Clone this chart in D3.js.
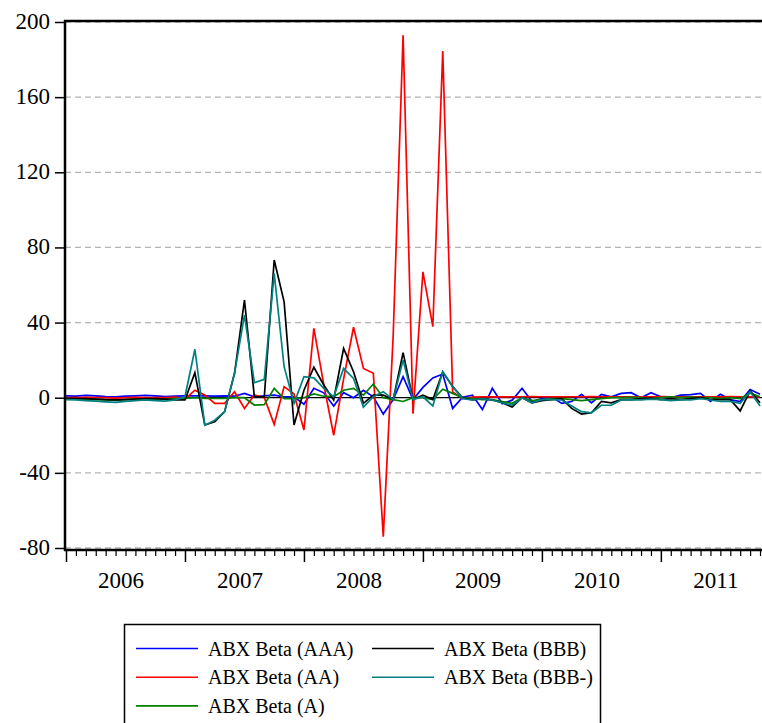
<!DOCTYPE html>
<html><head><meta charset="utf-8">
<script src="https://cdn.jsdelivr.net/npm/d3@7"></script>
<style>body{margin:0;background:#fff}svg{display:block}</style>
</head><body>
<svg id="chart" width="762" height="723" font-family="serif"></svg>
<script>
// ---- data (monthly, 2006M01 .. 2011M11) ----
const startYear = 2006;
const monthIndex = d3.range(71);
const yearLabels = ["2006","2007","2008","2009","2010","2011"];
const yTicks = [-80,-40,0,40,80,120,160,200];
const seriesNames = ["ABX Beta (AAA)","ABX Beta (AA)","ABX Beta (A)","ABX Beta (BBB)","ABX Beta (BBB-)"];
const seriesColors = ["#0000ff","#ff0000","#008000","#000000","#008080"];

const betaAAA = [1.0,0.8,1.2,1.0,0.6,0.4,0.8,1.0,1.2,1.0,0.6,0.8,
  1,1,1,0.8,1,0.8,2.3,0.5,1,1.4,0.5,0.5,
  -3.5,5,2.6,-4.4,2.7,0,4,0.5,-8.7,-1,11.2,-1,
  5.5,10.5,12.6,-5.7,0.3,1.4,-6.3,5,-3.2,-1.3,5,-2,
  -0.5,0.5,-3,-2,1.8,-2.7,1.8,0.5,2.3,2.7,0,2.7,
  0.5,0,1.4,1.6,2.3,-2,1.8,-1,-2,4.4,1.8];
const betaAA = [0,0,0.2,0,0,-0.2,0,0.2,0,0,0,0.3,
  -0.7,4,1.4,-3,-3,3.2,-5.7,1.4,0,-14.2,5.9,2,
  -17.2,36.9,7,-20,10,37.5,15.6,13,-74,33,193,-8.5,
  67,37.8,184.5,3,-0.5,0.3,0.5,0.5,0.4,0.5,0.5,0.6,
  0.5,0.5,0.4,0.5,0.5,0.6,0.5,0.5,0.4,0.5,0.5,0.5,
  0.6,0.5,0.5,0.4,0.5,0.5,0.5,0.6,0.5,0.5,0.5];
const betaA = [-0.5,-0.6,-0.8,-1,-1.2,-1.4,-1.0,-0.8,-0.6,-0.8,-0.8,-0.5,
  -0.3,0,-0.3,-0.3,-0.3,0,0,-3.9,-3.7,5,-0.5,-0.5,
  0,2,0.8,0.5,4,5,1.4,7.3,0,-1,-2,0,
  0,-1,4.5,2.3,0,-0.5,-1,-1,-2,-3,0,-1.5,
  -1,-0.5,-0.5,-1,-1.5,-1,-0.5,0,0,0.2,0,-0.5,
  0,0.5,0,0.3,0,0,-0.5,0,-0.5,2.5,0.5];
const betaBBB = [-0.3,-0.5,-0.5,-0.8,-1,-1.2,-1,-0.8,-0.5,-0.5,-0.8,-1.2,
  -1.2,13.3,-14.5,-12.8,-7.4,13,52,0.5,0.5,73.3,51,-14.5,
  4,16.2,6.8,-1.2,26.3,13.8,-3,1.4,1.4,-1,24,-1,
  1.4,-1,13.8,5.9,0,-1.2,-0.5,-1.2,-2.7,-5,0,-2.7,
  -1.6,-1,-0.5,-5.7,-8.7,-8,-2,-2.7,-1,-1,-0.5,-0.3,
  -1,-0.5,-1,-0.5,0,-1,-1,-1,-7,3.7,-2.7];
const betaBBBm = [-1,-1.2,-1.5,-1.8,-2.2,-2.5,-2,-1.5,-1.2,-1.5,-1.8,-1.2,
  0.5,25.8,-14.6,-12,-7.4,13,44,8,9.8,66.2,16.5,-3,
  11.2,10.6,5,0.5,15.6,10.3,-5,0.5,3.2,-1,20,-1,
  0.5,-4.4,13.8,6,-0.5,-1.2,-0.5,-1.2,-2.7,-4,0,-2.7,
  -1,-1,-1.2,-4.4,-7.4,-8,-4,-4,-1.2,-1.2,-1.2,-0.8,
  -1,-1.5,-1.2,-1.2,-0.5,-1.2,-2,-2,-3,3.2,-4.4];
const allSeries = [betaAAA, betaAA, betaA, betaBBB, betaBBBm];

// ---- layout ----
const L = 65, T = 21, R = 762, B = 550;
const svg = d3.select("#chart");
const face = "serif";

const x = d3.scaleLinear().domain([startYear, startYear + 5 + 10.2/12]).range([66, 762]);
const y = d3.scaleLinear().domain([-80, 200]).range([548, 22]);
const tOf = i => startYear + i / 12;

svg.append("defs").append("clipPath").attr("id","clip")
  .append("rect").attr("x", L).attr("y", T).attr("width", R - L).attr("height", B - T);

// gridlines
svg.append("g").selectAll("line").data(yTicks.filter(v => v !== 0)).join("line")
  .attr("x1", L).attr("x2", R).attr("y1", d => y(d)).attr("y2", d => y(d))
  .attr("stroke", "#b4b4b4").attr("stroke-width", 1.3).attr("stroke-dasharray", "6,4");
// zero line
svg.append("line").attr("x1", L).attr("x2", R).attr("y1", y(0)).attr("y2", y(0))
  .attr("stroke", "#000").attr("stroke-width", 1.2);

// series
const line = d3.line().x((d, i) => x(tOf(i))).y(d => y(d));
const gLines = svg.append("g").attr("clip-path", "url(#clip)");
allSeries.forEach((s, k) => {
  gLines.append("path").datum(s).attr("d", line).attr("fill", "none")
    .attr("stroke", seriesColors[k]).attr("stroke-width", 1.7).attr("stroke-linejoin", "miter");
});

// y axis
const yAxis = d3.axisLeft(y).tickValues(yTicks).tickSize(10).tickPadding(5).tickFormat(d => String(d));
const gy = svg.append("g").attr("transform", `translate(${L},0)`).call(yAxis);
gy.attr("font-family", face).attr("font-size", 23);
gy.select(".domain").remove();
gy.selectAll(".tick line").attr("stroke", "#000").attr("stroke-width", 1.5);
gy.selectAll(".tick text").attr("font-family", face).attr("fill", "#000").attr("dy", "0.28em");

// x axis: monthly minor ticks, yearly major ticks
const monthTicks = monthIndex.map(tOf).filter((t, i) => i % 12 !== 0);
const yearTicks = yearLabels.map(Number);
const gxm = svg.append("g").attr("transform", `translate(0,${B})`)
  .call(d3.axisBottom(x).tickValues(monthTicks).tickSize(6).tickFormat(""));
gxm.select(".domain").remove();
gxm.selectAll(".tick line").attr("stroke", "#000").attr("stroke-width", 1.2);
const gxM = svg.append("g").attr("transform", `translate(0,${B})`)
  .call(d3.axisBottom(x).tickValues(yearTicks).tickSize(12).tickFormat(""));
gxM.select(".domain").remove();
gxM.selectAll(".tick line").attr("stroke", "#000").attr("stroke-width", 1.5);
const gxl = svg.append("g").attr("transform", `translate(0,${B})`)
  .call(d3.axisBottom(x).tickValues(yearTicks.map(v => v + 5.5/12)).tickSize(0).tickPadding(22)
    .tickFormat((d, i) => yearLabels[i]));
gxl.attr("font-family", face).attr("font-size", 23);
gxl.select(".domain").remove();
gxl.selectAll(".tick text").attr("font-family", face).attr("fill", "#000");

// frame
svg.append("line").attr("x1", L - 1).attr("x2", R).attr("y1", T).attr("y2", T).attr("stroke", "#000").attr("stroke-width", 2.5);
svg.append("line").attr("x1", L - 1).attr("x2", R).attr("y1", B).attr("y2", B).attr("stroke", "#000").attr("stroke-width", 2.5);
svg.append("line").attr("x1", L).attr("x2", L).attr("y1", T - 1).attr("y2", B + 1).attr("stroke", "#000").attr("stroke-width", 2.5);

// legend
const lg = svg.append("g").attr("font-family", face);
lg.append("rect").attr("x", 124.5).attr("y", 624.5).attr("width", 476).attr("height", 120)
  .attr("fill", "#fff").attr("stroke", "#000").attr("stroke-width", 1.5);
const legendPos = [[0,0],[0,1],[0,2],[1,0],[1,1]];
seriesNames.forEach((name, k) => {
  const [c, r] = legendPos[k];
  const lx = c === 0 ? 136 : 372;
  const cy = 648.5 + r * 28.7;
  lg.append("line").attr("x1", lx).attr("x2", lx + 62).attr("y1", cy).attr("y2", cy)
    .attr("stroke", seriesColors[k]).attr("stroke-width", 1.6);
  lg.append("text").attr("x", lx + 72).attr("y", cy + 7)
    .attr("font-family", face).attr("font-size", 20).attr("fill", "#000").text(name);
});
</script>
</body></html>
